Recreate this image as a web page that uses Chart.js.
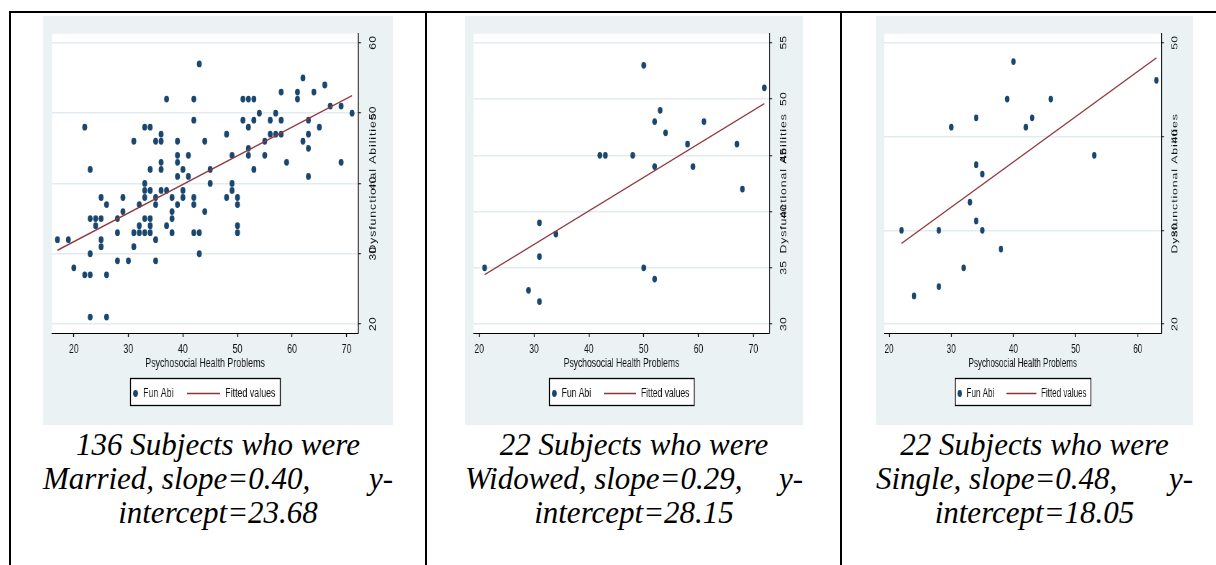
<!DOCTYPE html>
<html>
<head>
<meta charset="utf-8">
<title>Psychosocial health vs dysfunctional abilities</title>
<script src="https://cdn.jsdelivr.net/npm/chart.js@4.4.1/dist/chart.umd.min.js"></script>
<style>
  html, body { margin: 0; padding: 0; background: #fff; }
  body { width: 1216px; height: 565px; position: relative; overflow: hidden; }
  .rule { position: absolute; background: #000; }
  .panel { position: absolute; top: 16px; height: 409px; background: #eaf2f3; }
  .cap {
    position: absolute; top: 428px;
    font-family: "Liberation Serif", "Times New Roman", serif;
    font-style: italic; font-size: 31px; line-height: 34px; color: #000;
  }
  .cap .mid { text-align: center; white-space: nowrap; }
  .cap .wide { display: flex; justify-content: space-between; white-space: nowrap; }
</style>
</head>
<body>
<div class="rule" style="left:9px;top:11px;width:1207px;height:2px"></div>
<div class="rule" style="left:9px;top:11px;width:2px;height:554px"></div>
<div class="rule" style="left:425px;top:11px;width:2px;height:554px"></div>
<div class="rule" style="left:840px;top:11px;width:2px;height:554px"></div>

<canvas id="married" class="panel" width="486" height="409" style="left:43px;width:350px;height:409px"></canvas>
<canvas id="widowed" class="panel" width="486" height="409" style="left:465px;width:338px;height:409px"></canvas>
<canvas id="single" class="panel" width="486" height="409" style="left:876px;width:317px;height:409px"></canvas>

<div class="cap" style="left:43px;width:350px">
  <div class="mid">136 Subjects who were</div>
  <div class="wide"><span>Married, slope=0.40,</span><span>y-</span></div>
  <div class="mid">intercept=23.68</div>
</div>
<div class="cap" style="left:465px;width:338px">
  <div class="mid">22 Subjects who were</div>
  <div class="wide"><span>Widowed, slope=0.29,</span><span>y-</span></div>
  <div class="mid">intercept=28.15</div>
</div>
<div class="cap" style="left:876px;width:317px">
  <div class="mid">22 Subjects who were</div>
  <div class="wide"><span>Single, slope=0.48,</span><span>y-</span></div>
  <div class="mid">intercept=18.05</div>
</div>

<script>
// --- data ---
const marriedX = [17, 19, 20, 22, 22, 23, 23, 23, 23, 23, 24, 24, 25, 25, 25, 25, 26, 26, 26,
  28, 28, 28, 29, 29, 30, 31, 31, 31, 32, 32, 32, 33, 33, 33, 33, 33, 33, 34, 34, 34, 34, 34, 34,
  35, 35, 35, 35, 35, 36, 36, 36, 36, 36, 37, 37, 37, 38, 38, 38, 38, 39, 39, 39, 39, 39,
  40, 40, 40, 41, 41, 42, 42, 42, 42, 42, 43, 43, 43, 44, 44, 45, 45, 48, 48, 49, 49, 49,
  50, 50, 50, 50, 51, 51, 52, 52, 52, 52, 53, 53, 53, 54, 55, 55, 56, 56, 57, 57, 58, 58, 58,
  59, 61, 61, 62, 62, 63, 63, 63, 63, 64, 65, 66, 67, 69, 69, 71];
const marriedY = [32, 32, 28, 48, 27, 27, 42, 35, 30, 21, 35, 34, 35, 38, 32, 31, 37, 27, 21,
  35, 33, 29, 38, 36, 29, 46, 33, 31, 37, 34, 33, 48, 40, 39, 38, 35, 33, 48, 42, 39, 35, 34, 33,
  46, 38, 37, 32, 29, 47, 46, 43, 42, 39, 52, 39, 34, 38, 36, 35, 33, 46, 44, 43, 41, 37,
  42, 39, 38, 44, 41, 52, 49, 38, 37, 33, 57, 33, 30, 46, 36, 42, 40, 47, 38, 44, 40, 39,
  38, 37, 34, 33, 52, 49, 52, 48, 45, 44, 52, 49, 42, 50, 46, 44, 49, 47, 50, 47, 53, 49, 47,
  43, 53, 52, 55, 46, 49, 47, 45, 41, 53, 48, 54, 51, 51, 43, 50];
const marriedFitX = [17, 71];
const marriedFitY = [30.5, 52.5];

const widowedX = [21, 29, 31, 31, 31, 34, 42, 43, 48, 50, 50, 52, 52, 52, 53, 54, 58, 59, 61, 67, 68, 72];
const widowedY = [35, 33, 39, 36, 32, 38, 45, 45, 45, 53, 35, 48, 44, 34, 49, 47, 46, 44, 48, 46, 42, 51];
const widowedFitX = [21, 72];
const widowedFitY = [34.4, 49.6];

const singleX = [22, 24, 28, 28, 30, 32, 33, 34, 34, 34, 35, 35, 38, 39, 40, 42, 43, 46, 53, 63];
const singleY = [30, 23, 30, 24, 41, 26, 33, 42, 37, 31, 36, 30, 28, 44, 48, 41, 42, 44, 38, 46];
const singleFitX = [22, 63];
const singleFitY = [28.6, 48.4];

const marriedXTicks = [20, 30, 40, 50, 60, 70];
const marriedYTicks = [20, 30, 40, 50, 60];
const widowedXTicks = [20, 30, 40, 50, 60, 70];
const widowedYTicks = [30, 35, 40, 45, 50, 55];
const singleXTicks = [20, 30, 40, 50, 60];
const singleYTicks = [20, 30, 40, 50];

const NAVY = '#1a476f';
const MAROON = '#90353b';
const INK = '#111';
const FONT = '"Liberation Sans", Arial, sans-serif';

Chart.defaults.font.family = FONT;
Chart.defaults.font.size = 12.3;
Chart.defaults.color = INK;

function toPoints(xs, ys) {
  return xs.map((x, i) => ({ x: x, y: ys[i] }));
}

// white plot region, upward y title and the boxed legend the way Stata draws them
const stataFrame = {
  id: 'stataFrame',
  beforeDraw(chart) {
    const { ctx, chartArea: a } = chart;
    ctx.save();
    ctx.fillStyle = '#fff';
    ctx.fillRect(a.left, a.top, a.right - a.left, a.bottom - a.top);
    ctx.restore();
  },
  afterDraw(chart, args, opts) {
    const { ctx, chartArea: a } = chart;
    const fit = chart.data.datasets[0];
    const dots = chart.data.datasets[1];

    ctx.save();
    ctx.fillStyle = INK;
    ctx.font = '12.3px ' + FONT;
    ctx.letterSpacing = '0.9px';
    ctx.textAlign = 'center';
    ctx.textBaseline = 'middle';
    ctx.translate(459, (a.top + a.bottom) / 2);
    ctx.rotate(-Math.PI / 2);
    ctx.fillText(opts.yTitle, 0, 0);
    ctx.restore();

    const cy = 377.5;
    ctx.save();
    ctx.fillStyle = '#fff';
    ctx.fillRect(121, 362, 209, 28);
    ctx.strokeStyle = '#000';
    ctx.lineWidth = 1.3;
    ctx.strokeRect(121.5, 362.5, 208, 27);

    ctx.fillStyle = dots.backgroundColor;
    ctx.beginPath();
    ctx.arc(128.5, cy, dots.pointRadius, 0, Math.PI * 2);
    ctx.fill();

    ctx.strokeStyle = fit.borderColor;
    ctx.lineWidth = fit.borderWidth;
    ctx.beginPath();
    ctx.moveTo(200, cy);
    ctx.lineTo(246, cy);
    ctx.stroke();

    ctx.fillStyle = INK;
    ctx.font = '12.3px ' + FONT;
    ctx.textAlign = 'left';
    ctx.textBaseline = 'middle';
    ctx.fillText(dots.label, 139, cy + 0.5);
    ctx.fillText(fit.label, 253, cy + 0.5);
    ctx.restore();
  }
};

function makePanel(id, cfg) {
  return new Chart(document.getElementById(id), {
    type: 'scatter',
    data: {
      datasets: [
        {
          label: 'Fitted values',
          data: toPoints(cfg.fitX, cfg.fitY),
          showLine: true,
          borderColor: MAROON,
          borderWidth: 1.4,
          pointRadius: 0,
          order: 0
        },
        {
          label: 'Fun Abi',
          data: toPoints(cfg.xs, cfg.ys),
          backgroundColor: NAVY,
          borderWidth: 0,
          pointRadius: 3.4,
          order: 1
        }
      ]
    },
    options: {
      responsive: false,
      animation: false,
      devicePixelRatio: 1,
      layout: { autoPadding: false, padding: { left: 12.5, top: 15, right: 0, bottom: 53.6 } },
      plugins: {
        legend: { display: false },
        tooltip: { enabled: false },
        stataFrame: { yTitle: 'Dysfunctional Abilities' }
      },
      scales: {
        x: {
          type: 'linear',
          min: cfg.xMin,
          max: cfg.xMax,
          afterBuildTicks: s => { s.ticks = cfg.xTicks.map(v => ({ value: v })); },
          afterFit: s => { s.height = 38.4; },
          grid: { drawOnChartArea: false, drawTicks: true, tickLength: 4, tickColor: '#000', tickWidth: 1.3 },
          border: { color: '#000', width: 1 },
          ticks: { padding: 5.6, maxRotation: 0, color: INK },
          title: { display: true, text: 'Psychosocial Health Problems', color: INK, padding: 0 }
        },
        y: {
          type: 'linear',
          position: 'right',
          min: cfg.yMin,
          max: cfg.yMax,
          afterBuildTicks: s => { s.ticks = cfg.yTicks.map(v => ({ value: v })); },
          afterFit: s => { s.width = 48.5; },
          grid: { color: '#e2ebef', lineWidth: 1.5, tickColor: '#000', tickLength: 4, tickWidth: 1 },
          border: { color: '#000', width: 1.4 },
          ticks: { minRotation: 90, maxRotation: 90, crossAlign: 'center', padding: 10.5, color: INK }
        }
      }
    },
    plugins: [stataFrame]
  });
}

makePanel('married', {
  xs: marriedX, ys: marriedY, fitX: marriedFitX, fitY: marriedFitY,
  xTicks: marriedXTicks, yTicks: marriedYTicks,
  xMin: 16, xMax: 72.1, yMin: 18.73, yMax: 61.27
});
makePanel('widowed', {
  xs: widowedX, ys: widowedY, fitX: widowedFitX, fitY: widowedFitY,
  xTicks: widowedXTicks, yTicks: widowedYTicks,
  xMin: 19, xMax: 72.9, yMin: 29.21, yMax: 55.79
});
makePanel('single', {
  xs: singleX, ys: singleY, fitX: singleFitX, fitY: singleFitY,
  xTicks: singleXTicks, yTicks: singleYTicks,
  xMin: 19.2, xMax: 63.8, yMin: 19.05, yMax: 50.95
});
</script>
</body>
</html>
